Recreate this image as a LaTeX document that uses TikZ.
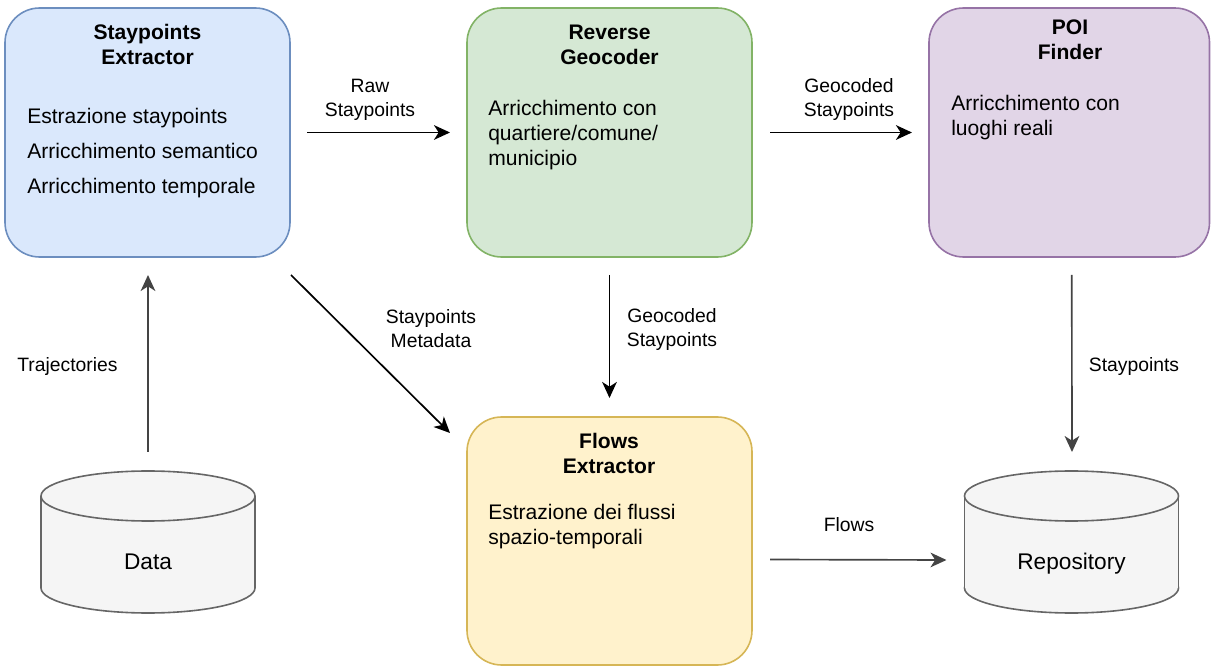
\documentclass[tikz,border=0pt]{standalone}
\usepackage{fontspec}
\setmainfont{Liberation Sans}
\usetikzlibrary{arrows.meta}

\definecolor{bluefill}{HTML}{DAE8FC}
\definecolor{blueline}{HTML}{6C8EBF}
\definecolor{greenfill}{HTML}{D5E8D4}
\definecolor{greenline}{HTML}{82B366}
\definecolor{purplefill}{HTML}{E1D5E7}
\definecolor{purpleline}{HTML}{9673A6}
\definecolor{yellowfill}{HTML}{FFF2CC}
\definecolor{yellowline}{HTML}{D6B656}
\definecolor{drumfill}{HTML}{F5F5F5}
\definecolor{drumline}{HTML}{666666}
\definecolor{arrgray}{HTML}{444444}

% database drum centred horizontally at #1
\newcommand\drumat[1]{%
  \filldraw[drum] (#1,588) ellipse[x radius=107,y radius=25];
  \fill[drumfill] (#1-107,496) rectangle (#1+107,588);
  \draw[drum] (#1-107,496) -- (#1-107,588) (#1+107,496) -- (#1+107,588);
  \filldraw[drum] (#1,496) ellipse[x radius=107,y radius=25];
}

\begin{document}
\begin{tikzpicture}[x=0.75pt,y=-0.75pt,
  stage/.style={draw, line width=1.2pt, rounded corners=26pt, inner sep=0pt,
    outer sep=0pt, minimum width=213.75pt, minimum height=186.75pt},
  title/.style={font=\bfseries\fontsize{15.8}{18.75}\selectfont, anchor=base,
    inner sep=0pt, align=center},
  body/.style={font=\fontsize{15.8}{18.75}\selectfont, anchor=base west,
    inner sep=0pt, align=left},
  lbl/.style={font=\fontsize{14.5}{18}\selectfont, anchor=base, inner sep=0pt,
    align=center},
  drum/.style={draw=drumline, fill=drumfill, line width=1.2pt},
  drumbox/.style={inner sep=0pt, outer sep=0pt, minimum width=160.5pt,
    minimum height=106.5pt},
  drumtext/.style={font=\fontsize{17}{20}\selectfont, anchor=base, inner sep=0pt},
  arr/.style={line width=1.25pt, -{Stealth[length=12pt,width=11pt,inset=3.5pt]}},
  grayarr/.style={arr, draw=arrgray, arrgray}]

\useasboundingbox (0,0) rectangle (1211,666);

% processing stages
\node[stage, fill=bluefill, draw=blueline] (spx) at (147.5,132.5) {};
\node[stage, fill=greenfill, draw=greenline] (rg) at (609.5,132.5) {};
\node[stage, fill=purplefill, draw=purpleline, minimum width=210.4pt] (poi) at (1069.25,132.5) {};
\node[stage, fill=yellowfill, draw=yellowline, minimum height=186pt] (flows) at (609.5,541) {};

% multi-line texts are placed by the baseline of their last line
\node[title] (spxtitle) at (147.5,65) {Staypoints\\Extractor};
\node[body, font=\fontsize{15.8}{26.25}\selectfont] (spxbody) at (27,194)
  {Estrazione staypoints\\Arricchimento semantico\\Arricchimento temporale};

\node[title] (rgtitle) at (609.5,65) {Reverse\\Geocoder};
\node[body] (rgbody) at (488,166) {Arricchimento con\\quartiere/comune/\\municipio};

\node[title] (poititle) at (1070,60) {POI\\Finder};
\node[body] (poibody) at (951,135.5) {Arricchimento con\\luoghi reali};

\node[title] (flowstitle) at (609,474) {Flows\\Extractor};
\node[body] (flowsbody) at (488,545) {Estrazione dei flussi\\spazio-temporali};

% data stores
\drumat{148}
\drumat{1071.5}
\node[drumbox] (data) at (148,542) {};
\node[drumbox] (repo) at (1071.5,542) {};
\node[drumtext] (datatext) at (148,570) {Data};
\node[drumtext] (repotext) at (1071.5,570) {Repository};

% connectors
\draw[arr] ([shift={(17,0)}]spx.east) -- ([shift={(-17,0)}]rg.west);
\draw[arr] ([shift={(18,0)}]rg.east) -- ([shift={(-17,0)}]poi.west);
\draw[grayarr] ([shift={(0,-19)}]data.north) -- ([shift={(0.5,18)}]spx.south);
\draw[arr] ([shift={(1,18)}]spx.south east) -- ([shift={(-17,16)}]flows.north west);
\draw[arr] ([shift={(0,18)}]rg.south) -- ([shift={(0,-19)}]flows.north);
\draw[grayarr] ([shift={(2.5,18)}]poi.south) -- ([shift={(0.5,-19)}]repo.north);
\draw[grayarr] ([shift={(18,18.5)}]flows.east) -- ([shift={(-18,18)}]repo.west);

% connector labels
\node[lbl] (lraw) at (370,117) {Raw\\Staypoints};
\node[lbl] (lgeo1) at (849,117) {Geocoded\\Staypoints};
\node[lbl] (ltraj) at (67.5,372) {Trajectories};
\node[lbl] (lmeta) at (431,348) {Staypoints\\Metadata};
\node[lbl] (lgeo2) at (672,347) {Geocoded\\Staypoints};
\node[lbl] (lsp) at (1134,372) {Staypoints};
\node[lbl] (lflows) at (849,532) {Flows};

\end{tikzpicture}
\end{document}
